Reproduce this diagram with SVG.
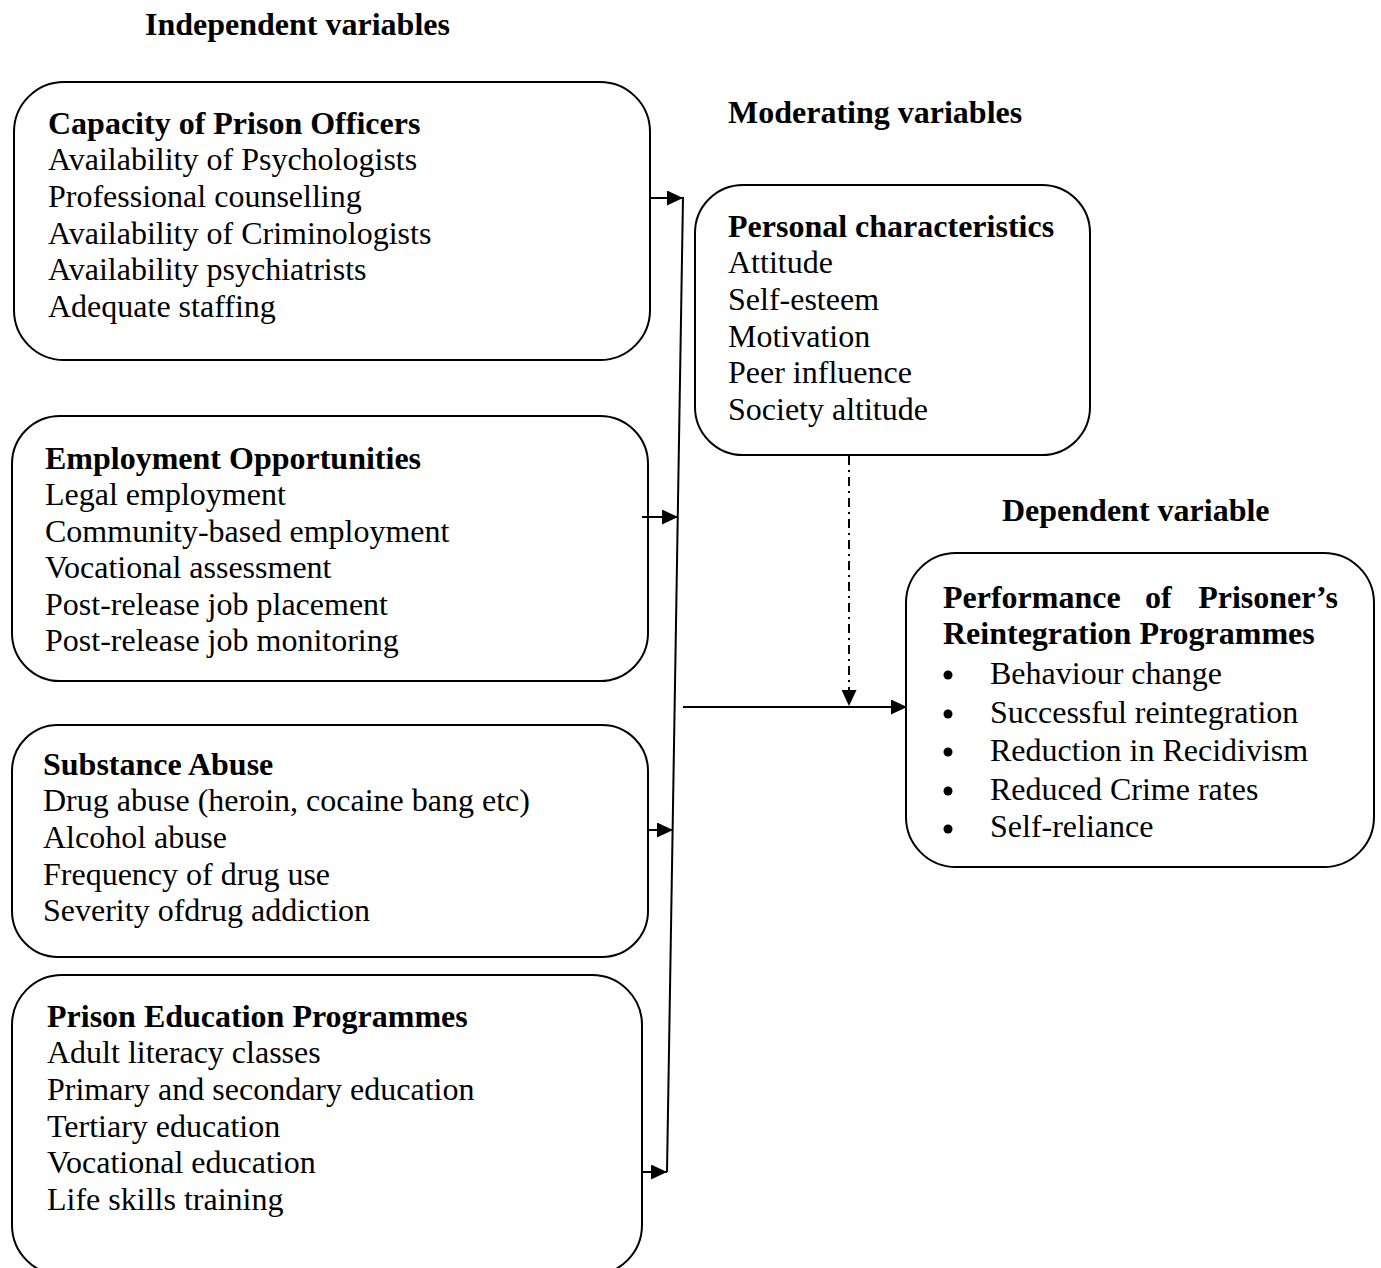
<svg xmlns="http://www.w3.org/2000/svg" width="1381" height="1268" viewBox="0 0 1381 1268">
<style>
.box{fill:none;stroke:#000;stroke-width:2}
.t{font-family:"Liberation Serif","Times New Roman",serif;font-size:32px;fill:#000}
.b{font-weight:bold}
.h{font-family:"Liberation Serif","Times New Roman",serif;font-size:32px;font-weight:bold;fill:#000}
.ln{stroke:#000;stroke-width:2;fill:none}
</style>
<defs>
<marker id="ah" viewBox="0 0 10 10" refX="10" refY="5" markerWidth="16" markerHeight="15" markerUnits="userSpaceOnUse" orient="auto" preserveAspectRatio="none">
<path d="M0,0 L10,5 L0,10 z" fill="#000"/>
</marker>
</defs>
<text class="h" x="145" y="35">Independent variables</text>
<text class="h" x="728" y="123">Moderating variables</text>
<text class="h" x="1002" y="521">Dependent variable</text>

<g id="capacity">
<rect class="box" x="14" y="82" width="636" height="278" rx="50"/>
<text class="t b" x="48" y="134">Capacity of Prison Officers</text>
<text class="t" x="48" y="170">Availability of Psychologists</text>
<text class="t" x="48" y="207">Professional counselling</text>
<text class="t" x="48" y="244">Availability of Criminologists</text>
<text class="t" x="48" y="280">Availability psychiatrists</text>
<text class="t" x="48" y="317">Adequate staffing</text>
</g>
<g id="employment">
<rect class="box" x="12" y="416" width="636" height="265" rx="48"/>
<text class="t b" x="45" y="469">Employment Opportunities</text>
<text class="t" x="45" y="505">Legal employment</text>
<text class="t" x="45" y="542">Community-based employment</text>
<text class="t" x="45" y="578">Vocational assessment</text>
<text class="t" x="45" y="615">Post-release job placement</text>
<text class="t" x="45" y="651">Post-release job monitoring</text>
</g>
<g id="substance">
<rect class="box" x="12" y="725" width="636" height="232" rx="46"/>
<text class="t b" x="43" y="775">Substance Abuse</text>
<text class="t" x="43" y="811">Drug abuse (heroin, cocaine bang etc)</text>
<text class="t" x="43" y="848">Alcohol abuse</text>
<text class="t" x="43" y="885">Frequency of drug use</text>
<text class="t" x="43" y="921">Severity ofdrug addiction</text>
</g>
<g id="education">
<rect class="box" x="12" y="975" width="630" height="300" rx="50"/>
<text class="t b" x="47" y="1027">Prison Education Programmes</text>
<text class="t" x="47" y="1063">Adult literacy classes</text>
<text class="t" x="47" y="1100">Primary and secondary education</text>
<text class="t" x="47" y="1137">Tertiary education</text>
<text class="t" x="47" y="1173">Vocational education</text>
<text class="t" x="47" y="1210">Life skills training</text>
</g>
<g id="personal">
<rect class="box" x="695" y="185" width="395" height="270" rx="48"/>
<text class="t b" x="728" y="237">Personal characteristics</text>
<text class="t" x="728" y="273">Attitude</text>
<text class="t" x="728" y="310">Self-esteem</text>
<text class="t" x="728" y="347">Motivation</text>
<text class="t" x="728" y="383">Peer influence</text>
<text class="t" x="728" y="420">Society altitude</text>
</g>
<g id="performance">
<rect class="box" x="906" y="553" width="468" height="314" rx="50"/>
<text class="t b" x="943" y="608">Performance</text>
<text class="t b" x="1145" y="608">of</text>
<text class="t b" x="1338" y="608" text-anchor="end">Prisoner’s</text>
<text class="t b" x="943" y="644">Reintegration Programmes</text>
<circle cx="948" cy="675" r="4.5"/>
<circle cx="948" cy="714" r="4.5"/>
<circle cx="948" cy="752" r="4.5"/>
<circle cx="948" cy="791" r="4.5"/>
<circle cx="948" cy="829" r="4.5"/>
<text class="t" x="990" y="684">Behaviour change</text>
<text class="t" x="990" y="723">Successful reintegration</text>
<text class="t" x="990" y="761">Reduction in Recidivism</text>
<text class="t" x="990" y="800">Reduced Crime rates</text>
<text class="t" x="990" y="837">Self-reliance</text>
</g>
<g id="connectors">
<line class="ln" x1="683" y1="197" x2="667" y2="1172"/>
<line class="ln" x1="650" y1="198" x2="683" y2="198" marker-end="url(#ah)"/>
<line class="ln" x1="642" y1="517" x2="678" y2="517" marker-end="url(#ah)"/>
<line class="ln" x1="647" y1="830" x2="673" y2="830" marker-end="url(#ah)"/>
<line class="ln" x1="642" y1="1172" x2="667" y2="1172" marker-end="url(#ah)"/>
<line class="ln" x1="683" y1="707" x2="907" y2="707" marker-end="url(#ah)"/>
<line class="ln" x1="849" y1="456" x2="849" y2="706" stroke-dasharray="9 5 2 5" marker-end="url(#ah)"/>
</g>
</svg>
